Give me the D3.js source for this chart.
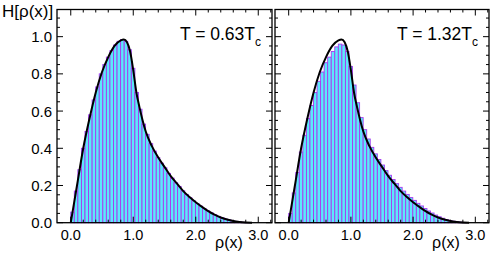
<!DOCTYPE html>
<html><head><meta charset="utf-8">
<script src="https://cdn.jsdelivr.net/npm/d3@7"></script>
<style>body{margin:0;background:#fff}svg{display:block}text{font-family:"Liberation Sans",Arial,sans-serif;fill:#000}</style>
</head><body><svg id="c" width="491" height="254"></svg>
<script>
// ---- data ----
const binWidth = 0.057;
const histLeft = [0.057,0.17,0.285,0.40,0.49,0.58,0.66,0.73,0.80,0.85,0.89,0.925,0.955,0.975,0.985,0.975,0.93,0.83,0.70,0.61,0.53,0.475,0.425,0.385,0.35,0.32,0.295,0.265,0.24,0.215,0.195,0.172,0.152,0.135,0.118,0.103,0.089,0.076,0.064,0.053,0.043,0.034,0.027,0.020,0.015,0.010,0.007,0.004,0.002,0.001];
const histRight = [0.05,0.16,0.27,0.38,0.47,0.56,0.63,0.70,0.76,0.81,0.86,0.89,0.92,0.945,0.96,0.955,0.92,0.84,0.74,0.645,0.565,0.50,0.45,0.405,0.37,0.34,0.31,0.28,0.255,0.232,0.21,0.19,0.17,0.152,0.135,0.12,0.104,0.09,0.076,0.063,0.052,0.041,0.032,0.024,0.017,0.012,0.008,0.005,0.003,0.001];
const curveX = [0,0.1,0.2,0.3,0.4,0.5,0.6,0.7,0.8,0.85,0.9,0.95,1.0,1.05,1.1,1.15,1.2,1.3,1.4,1.5,1.6,1.7,1.8,1.9,2.0,2.1,2.2,2.3,2.4,2.5,2.6,2.7,2.8,2.9];
const curveY = [0,0.2,0.4,0.56,0.7,0.81,0.89,0.95,0.98,0.985,0.97,0.92,0.82,0.7,0.62,0.55,0.49,0.41,0.35,0.3,0.25,0.21,0.17,0.138,0.11,0.085,0.062,0.043,0.028,0.017,0.009,0.004,0.001,0];
const yTicks = [0,0.2,0.4,0.6,0.8,1.0];
const xTicks = [0,1,2,3];
const panelLabels = ["0.63","1.32"];
// ---- layout ----
const svg = d3.select("#c");
const yTop = 9.5, yBot = 222.7;
const panels = [{x0:57,x1:272,hist:histLeft,lab:panelLabels[0],yAxis:true},{x0:275,x1:489,hist:histRight,lab:panelLabels[1],yAxis:false}];
const y = d3.scaleLinear().domain([0,1.146]).range([yBot,yTop]);

panels.forEach(p=>{
  const x = d3.scaleLinear().domain([-0.22,3.22]).range([p.x0,p.x1]);
  const g = svg.append("g");
  g.selectAll("rect.bar").data(p.hist).enter().append("rect")
    .attr("x",(d,i)=>x(i*binWidth))
    .attr("width",(d,i)=>x((i+1)*binWidth)-x(i*binWidth))
    .attr("y",d=>y(d)).attr("height",d=>y(0)-y(d))
    .attr("fill","#5ce8fa").attr("stroke","#a838f0").attr("stroke-width",0.9);
  const line = d3.line().x((d,i)=>x(curveX[i])).y(d=>y(d)).curve(d3.curveMonotoneX);
  g.append("path").attr("d",line(curveY)).attr("fill","none").attr("stroke","#000").attr("stroke-width",2);
  g.append("rect").attr("x",p.x0).attr("y",yTop).attr("width",p.x1-p.x0).attr("height",yBot-yTop)
    .attr("fill","none").attr("stroke","#000").attr("stroke-width",1.3);
  const ax = [];
  d3.range(0,3.21,0.2).forEach(v=>ax.push([v, xTicks.some(t=>Math.abs(t-v)<1e-6)?6:3]));
  ax.forEach(([v,len])=>{
    const xx = x(v);
    if(xx<p.x0+1||xx>p.x1-1) return;
    g.append("line").attr("x1",xx).attr("x2",xx).attr("y1",yBot).attr("y2",yBot-len).attr("stroke","#000");
    g.append("line").attr("x1",xx).attr("x2",xx).attr("y1",yTop).attr("y2",yTop+len).attr("stroke","#000");
  });
  d3.range(0,1.146,0.05).forEach(v=>{
    const major = yTicks.some(t=>Math.abs(t-v)<1e-6);
    const len = major?6:3, yy=y(v);
    g.append("line").attr("x1",p.x0).attr("x2",p.x0+len).attr("y1",yy).attr("y2",yy).attr("stroke","#000");
    g.append("line").attr("x1",p.x1).attr("x2",p.x1-len).attr("y1",yy).attr("y2",yy).attr("stroke","#000");
  });
  xTicks.forEach(t=>{
    g.append("text").attr("x",x(t)).attr("y",240).attr("text-anchor","middle").attr("font-size",14.5).text(t.toFixed(1));
  });
  if(p.yAxis){
    yTicks.forEach(t=>{
      g.append("text").attr("x",52).attr("y",y(t)+5.5).attr("text-anchor","end").attr("font-size",15).text(t.toFixed(1));
    });
  }
  g.append("text").attr("x",p.x1-43).attr("y",248).attr("text-anchor","middle").attr("font-size",16).text("ρ(x)");
  const t = g.append("text").attr("x",p.x1-11).attr("y",40).attr("text-anchor","end").attr("font-size",17.5);
  t.append("tspan").text("T = "+p.lab+"T");
  t.append("tspan").attr("dy",6).attr("font-size",12).text("c");
});
svg.append("text").attr("x",2).attr("y",17).attr("font-size",17).text("H[ρ(x)]");
</script></body></html>
